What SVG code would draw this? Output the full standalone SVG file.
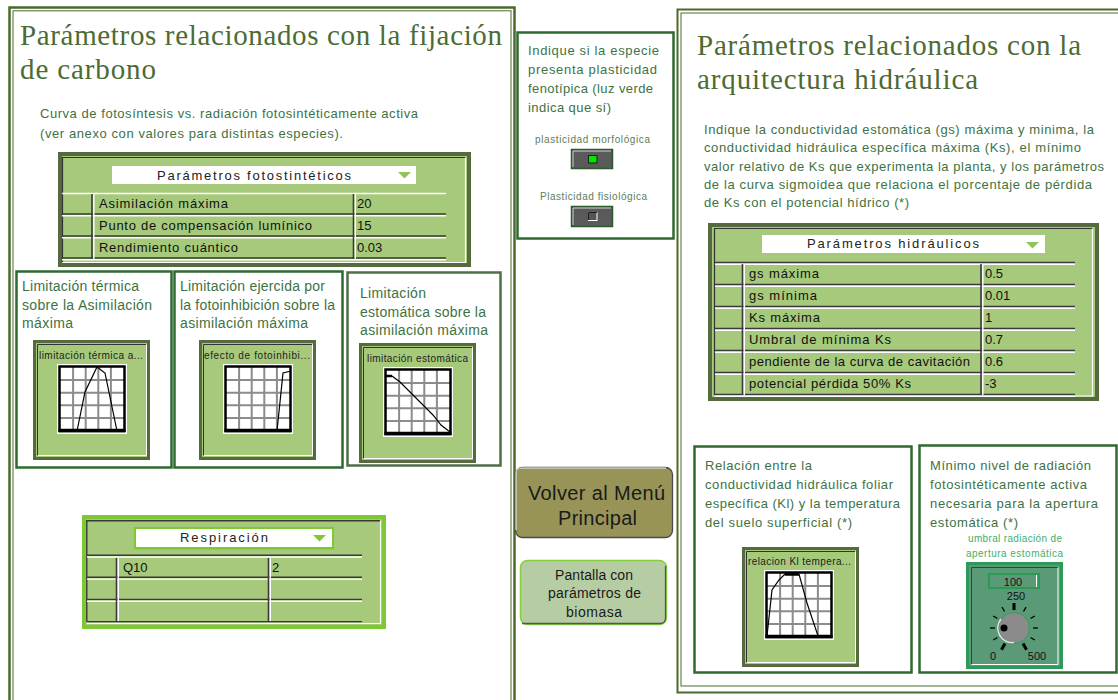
<svg xmlns="http://www.w3.org/2000/svg" width="1118" height="700" viewBox="0 0 1118 700">
<style>
.ttl{font-family:"Liberation Serif","Times New Roman",serif;font-size:29px;fill:#4c6b35}
.para{font-family:"Liberation Sans",Arial,sans-serif;font-size:13px;fill:#3e7244}
.pbig{font-family:"Liberation Sans",Arial,sans-serif;font-size:14px;fill:#3e7244}
.cell{font-family:"Liberation Sans",Arial,sans-serif;font-size:13px;fill:#111}
.hdr{font-family:"Liberation Sans",Arial,sans-serif;font-size:13px;fill:#222}
.gt{font-family:"Liberation Sans",Arial,sans-serif;font-size:10px;fill:#1e1e1e}
.small{font-family:"Liberation Sans",Arial,sans-serif;font-size:10px;fill:#5d7d5d}
.umb{font-family:"Liberation Sans",Arial,sans-serif;font-size:10px;fill:#3fae6c}
.btn{font-family:"Liberation Sans",Arial,sans-serif;fill:#1a1a1a}
.panel{fill:#fff;stroke:#2f6a30;stroke-width:2.5}
.frame{fill:none;stroke:#4a6a2c}
.dk{stroke:#3a3a3a;stroke-width:1.6;fill:none}
.wt{stroke:#fff;stroke-width:1.4;fill:none}
.grid{stroke:#8c8c8c;stroke-width:2;fill:none}
.curve{fill:none;stroke:#000;stroke-width:1.2}
.kt{font-family:"Liberation Sans",Arial,sans-serif;font-size:11px;fill:#111;text-anchor:middle}
.tick{stroke:#000;stroke-width:1.3}
.major{stroke:#000;stroke-width:3}
</style>
<defs>
<g id="plot">
<rect x="0" y="0" width="70" height="70" fill="#fff"/>
<path class="grid" d="M16.1 3V67M28.7 3V67M41.3 3V67M53.9 3V67M3 16.1H67M3 28.7H67M3 41.3H67M3 53.9H67"/>
<rect x="2.5" y="2.5" width="65" height="64.5" fill="none" stroke="#000" stroke-width="2.5"/>
<line x1="1.5" y1="66.5" x2="68.5" y2="66.5" stroke="#000" stroke-width="3.5"/>
</g>
<g id="xyw">
<rect x="1.5" y="1.5" width="114" height="117" fill="#a6c97b" stroke="#556b3f" stroke-width="3"/>
<path d="M4.5 116 V4.5 H113" fill="none" stroke="#333" stroke-width="1"/>
<path d="M4.5 115.5 H113.5 V4.5" fill="none" stroke="#fff" stroke-width="1"/>
</g>
</defs>

<rect x="0" y="0" width="1118" height="700" fill="#fff"/>

<!-- Left panel -->
<g id="panel-carbono">
<rect class="frame" x="9.5" y="7.5" width="505" height="720" stroke-width="2.5"/>
<rect class="frame" x="13" y="10.8" width="498" height="720" stroke-width="1"/>
<text class="ttl" x="20" y="45" textLength="482">Parámetros relacionados con la fijación</text>
<text class="ttl" x="20" y="79" textLength="136">de carbono</text>
<text class="para" x="40" y="118" textLength="378">Curva de fotosíntesis vs. radiación fotosintéticamente activa</text>
<text class="para" x="40" y="138" textLength="303">(ver anexo con valores para distintas especies).</text>
</g>

<g id="tabla-fotosinteticos">
<rect x="60" y="154" width="409" height="111" fill="#a6c97b" stroke="#556b3f" stroke-width="4"/>
<path d="M62.5 262 V157.5 H466" fill="none" stroke="#333" stroke-width="1.2"/>
<path d="M62.5 262.5 H465.5 V157.5" fill="none" stroke="#fff" stroke-width="1.2"/>
<rect x="112" y="166" width="304" height="18" fill="#fff"/>
<text class="hdr" x="157" y="180" textLength="194">Parámetros fotostintéticos</text>
<polygon points="398,172 411,172 404.5,178.5" fill="#8fc45a"/>
<line class="wt" x1="62" y1="193.5" x2="446" y2="193.5"/>
<line class="dk" x1="62" y1="214" x2="446" y2="214"/>
<line class="wt" x1="62" y1="215.8" x2="446" y2="215.8"/>
<line class="dk" x1="62" y1="236" x2="446" y2="236"/>
<line class="wt" x1="62" y1="237.8" x2="446" y2="237.8"/>
<line class="dk" x1="62" y1="258" x2="446" y2="258"/>
<line class="wt" x1="62" y1="259.8" x2="446" y2="259.8"/>
<line class="dk" x1="92" y1="194" x2="92" y2="259"/>
<line class="wt" x1="93.8" y1="194" x2="93.8" y2="259"/>
<line class="dk" x1="353.5" y1="194" x2="353.5" y2="259"/>
<line class="wt" x1="355.3" y1="194" x2="355.3" y2="259"/>
<text class="cell" x="99" y="208" textLength="129">Asimilación máxima</text>
<text class="cell" x="99" y="230" textLength="213">Punto de compensación lumínico</text>
<text class="cell" x="99" y="252" textLength="139">Rendimiento cuántico</text>
<text class="cell" x="357" y="208">20</text>
<text class="cell" x="357" y="230">15</text>
<text class="cell" x="357" y="252">0.03</text>
</g>

<g id="limitacion-termica">
<rect class="panel" x="16.5" y="271.5" width="155" height="196"/>
<text class="pbig" x="22" y="291" textLength="117">Limitación térmica</text>
<text class="pbig" x="22" y="310" textLength="130">sobre la Asimilación</text>
<text class="pbig" x="22" y="328" textLength="51">máxima</text>
<use href="#xyw" transform="translate(33,340)"/>
<text class="gt" x="39" y="359" textLength="104">limitación térmica a...</text>
<use href="#plot" transform="translate(57,364)"/>
<polyline class="curve" points="77,431 85,392 97,367 105,373 117,431"/>
</g>

<g id="limitacion-fotoinhibicion">
<rect class="panel" x="174.5" y="271.5" width="168" height="196"/>
<text class="pbig" x="180" y="291" textLength="145">Limitación ejercida por</text>
<text class="pbig" x="180" y="310" textLength="155">la fotoinhibición sobre la</text>
<text class="pbig" x="180" y="328" textLength="128">asimilación máxima</text>
<use href="#xyw" transform="translate(199,340)"/>
<text class="gt" x="204" y="359" textLength="106">efecto de fotoinhibi...</text>
<use href="#plot" transform="translate(223,364)"/>
<polyline class="curve" points="226,430 268,430 277,431 283,373 291,371"/>
</g>

<g id="limitacion-estomatica">
<rect class="panel" x="347.5" y="272.5" width="153" height="193" style="stroke:#4f6f45"/>
<text class="pbig" x="360" y="298" textLength="66">Limitación</text>
<text class="pbig" x="360" y="317" textLength="126">estomática sobre la</text>
<text class="pbig" x="360" y="335" textLength="128">asimilación máxima</text>
<use href="#xyw" transform="translate(359,343)"/>
<text class="gt" x="367" y="362" textLength="101">limitación estomática</text>
<use href="#plot" transform="translate(383,367)"/>
<line x1="385" y1="376" x2="392" y2="376" stroke="#000" stroke-width="2.5"/>
<polyline class="curve" points="392,376 400,382 413,395 424,406 433,415 441,425 450,432"/>
</g>

<g id="tabla-respiracion">
<rect x="84" y="517" width="300" height="110" fill="#a6c97b" stroke="#7ec832" stroke-width="4"/>
<path d="M86.8 622 V520.8 H380" fill="none" stroke="#3a3a3a" stroke-width="1.4"/>
<path d="M86.8 623.5 H380.5 V520.8" fill="none" stroke="#fff" stroke-width="1.2"/>
<rect x="135" y="528" width="198" height="20" fill="#fff" stroke="#7ec832" stroke-width="2"/>
<line x1="135" y1="548.5" x2="334" y2="548.5" stroke="#7ec832" stroke-width="2"/>
<text class="hdr" x="180" y="542" textLength="88">Respiración</text>
<polygon points="313,535 326,535 319.5,541.5" fill="#7ec832"/>
<line class="dk" x1="87" y1="555.2" x2="362" y2="555.2"/>
<line class="wt" x1="87" y1="557" x2="362" y2="557"/>
<line class="dk" x1="87" y1="577.3" x2="362" y2="577.3"/>
<line class="wt" x1="87" y1="579.1" x2="362" y2="579.1"/>
<line class="dk" x1="87" y1="599.5" x2="362" y2="599.5"/>
<line class="wt" x1="87" y1="601.3" x2="362" y2="601.3"/>
<line class="dk" x1="87" y1="621.7" x2="362" y2="621.7"/>
<line class="wt" x1="87" y1="623.4" x2="362" y2="623.4"/>
<line class="dk" x1="116.5" y1="558" x2="116.5" y2="621"/>
<line class="wt" x1="118.3" y1="558" x2="118.3" y2="621"/>
<line class="dk" x1="268.5" y1="558" x2="268.5" y2="621"/>
<line class="wt" x1="270.3" y1="558" x2="270.3" y2="621"/>
<text class="cell" x="123" y="572">Q10</text>
<text class="cell" x="272" y="572">2</text>
</g>

<!-- Middle column -->
<g id="plasticidad">
<rect x="517.5" y="32.5" width="156" height="206" fill="#fff" stroke="#2f6a30" stroke-width="2.5"/>
<text class="para" x="528" y="55" textLength="131">Indique si la especie</text>
<text class="para" x="528" y="74" textLength="129">presenta plasticidad</text>
<text class="para" x="528" y="93" textLength="125">fenotípica (luz verde</text>
<text class="para" x="528" y="112" textLength="83">indica que sí)</text>
<text class="small" x="535" y="143" textLength="115">plasticidad morfológica</text>
<rect x="571.5" y="149.5" width="41" height="19" fill="#5a5a5a" stroke="#2c5a2c" stroke-width="1.5"/>
<path d="M573 167 V151 H611" fill="none" stroke="#cfcfcf" stroke-width="1"/>
<rect x="588.5" y="155.5" width="8.5" height="7.5" fill="#00e600" stroke="#1e1e1e" stroke-width="1"/>
<text class="small" x="540" y="200" textLength="107">Plasticidad fisiológica</text>
<rect x="571.5" y="206.5" width="41" height="20" fill="#5a5a5a" stroke="#2c5a2c" stroke-width="1.5"/>
<path d="M573 225 V208 H611" fill="none" stroke="#cfcfcf" stroke-width="1"/>
<rect x="588.5" y="212.5" width="8.5" height="8" fill="#555" stroke="#fff" stroke-width="1"/>
<path d="M588.5 220 V212.5 H597" fill="none" stroke="#1e1e1e" stroke-width="1"/>
</g>

<g id="btn-volver">
<rect x="515.5" y="467.5" width="157" height="70" rx="7" fill="#989458" stroke="#4a4a4a" stroke-width="1.3"/>
<path d="M516 530 V474 Q516 468 522 468 H666" fill="none" stroke="#fff" stroke-width="1"/>
<text class="btn" x="528" y="500" font-size="20" textLength="137">Volver al Menú</text>
<text class="btn" x="558" y="525" font-size="20" textLength="79">Principal</text>
</g>

<g id="btn-biomasa">
<rect x="520.5" y="560.5" width="146" height="64" rx="7" fill="#b6cda3" stroke="#86cf3e" stroke-width="1.5"/>
<path d="M522 623.5 H660 Q665.5 623.5 665.5 618 V566" fill="none" stroke="#555" stroke-width="1.3"/>
<text class="btn" x="555" y="580" font-size="14" textLength="78">Pantalla con</text>
<text class="btn" x="548" y="598" font-size="14" textLength="93">parámetros de</text>
<text class="btn" x="566" y="617" font-size="14" textLength="56">biomasa</text>
</g>

<!-- Right panel -->
<g id="panel-hidraulica">
<rect class="frame" x="677.5" y="9.5" width="460" height="683" stroke-width="2"/>
<rect class="frame" x="681" y="13" width="455" height="673" stroke-width="1"/>
<text class="ttl" x="697" y="55" textLength="384">Parámetros relacionados con la</text>
<text class="ttl" x="697" y="89" textLength="281">arquitectura hidráulica</text>
<text class="para" x="704" y="134" textLength="390">Indique la conductividad estomática (gs) máxima y minima, la</text>
<text class="para" x="704" y="152" textLength="377">conductividad hidráulica específica máxima (Ks), el mínimo</text>
<text class="para" x="704" y="171" textLength="400">valor relativo de Ks que experimenta la planta, y los parámetros</text>
<text class="para" x="704" y="189" textLength="388">de la curva sigmoidea que relaciona el porcentaje de pérdida</text>
<text class="para" x="704" y="207" textLength="205">de Ks con el potencial hídrico (*)</text>
</g>

<g id="tabla-hidraulicos">
<rect x="710" y="225" width="387" height="174" fill="#a6c97b" stroke="#556b3f" stroke-width="4"/>
<path d="M714.5 395 V228.5 H1093" fill="none" stroke="#333" stroke-width="1.2"/>
<path d="M714.5 396 H1092.5 V228.5" fill="none" stroke="#fff" stroke-width="1.2"/>
<rect x="762" y="235" width="283" height="18" fill="#fff"/>
<text class="hdr" x="807" y="248" textLength="172">Parámetros hidráulicos</text>
<polygon points="1026,242 1039,242 1032.5,248.5" fill="#8fc45a"/>
<g>
<line class="dk" x1="715" y1="262.5" x2="1075" y2="262.5"/>
<line class="wt" x1="715" y1="264.3" x2="1075" y2="264.3"/>
<line class="dk" x1="715" y1="284.5" x2="1075" y2="284.5"/>
<line class="wt" x1="715" y1="286.3" x2="1075" y2="286.3"/>
<line class="dk" x1="715" y1="306.5" x2="1075" y2="306.5"/>
<line class="wt" x1="715" y1="308.3" x2="1075" y2="308.3"/>
<line class="dk" x1="715" y1="328.5" x2="1075" y2="328.5"/>
<line class="wt" x1="715" y1="330.3" x2="1075" y2="330.3"/>
<line class="dk" x1="715" y1="350.5" x2="1075" y2="350.5"/>
<line class="wt" x1="715" y1="352.3" x2="1075" y2="352.3"/>
<line class="dk" x1="715" y1="372.5" x2="1075" y2="372.5"/>
<line class="wt" x1="715" y1="374.3" x2="1075" y2="374.3"/>
<line class="dk" x1="715" y1="394.5" x2="1075" y2="394.5"/>
<line class="wt" x1="715" y1="396.3" x2="1075" y2="396.3"/>
<line class="dk" x1="742.5" y1="264" x2="742.5" y2="395"/>
<line class="wt" x1="744.3" y1="264" x2="744.3" y2="395"/>
<line class="dk" x1="981" y1="264" x2="981" y2="395"/>
<line class="wt" x1="982.8" y1="264" x2="982.8" y2="395"/>
</g>
<text class="cell" x="749" y="278" textLength="70">gs máxima</text>
<text class="cell" x="749" y="300" textLength="68">gs mínima</text>
<text class="cell" x="749" y="322" textLength="71">Ks máxima</text>
<text class="cell" x="749" y="344" textLength="142">Umbral de mínima  Ks</text>
<text class="cell" x="749" y="366" textLength="221">pendiente de la curva de cavitación</text>
<text class="cell" x="749" y="388" textLength="162">potencial pérdida 50% Ks</text>
<text class="cell" x="985" y="278">0.5</text>
<text class="cell" x="985" y="300">0.01</text>
<text class="cell" x="985" y="322">1</text>
<text class="cell" x="985" y="344">0.7</text>
<text class="cell" x="985" y="366">0.6</text>
<text class="cell" x="985" y="388">-3</text>
</g>

<g id="relacion-kl">
<rect class="panel" x="694.5" y="446.5" width="217" height="226"/>
<text class="para" x="705" y="470" textLength="107">Relación entre la</text>
<text class="para" x="705" y="489" textLength="188">conductividad hidráulica foliar</text>
<text class="para" x="705" y="508" textLength="195">específica (Kl) y la temperatura</text>
<text class="para" x="705" y="527" textLength="147">del suelo superficial (*)</text>
<use href="#xyw" transform="translate(742,547)"/>
<text class="gt" x="748" y="565" textLength="103">relacion Kl tempera...</text>
<use href="#plot" transform="translate(764,570)"/>
<polyline class="curve" points="767,636 772,590 779,580 785,574 799,574 807,603 818,636 832,636"/>
<line x1="785" y1="574.5" x2="799" y2="574.5" stroke="#000" stroke-width="2.5"/>
</g>

<g id="umbral-radiacion">
<rect class="panel" x="919.5" y="445.5" width="197" height="227"/>
<text class="para" x="930" y="470" textLength="161">Mínimo nivel de radiación</text>
<text class="para" x="930" y="489" textLength="157">fotosintéticamente activa</text>
<text class="para" x="930" y="508" textLength="168">necesaria para la apertura</text>
<text class="para" x="930" y="527" textLength="88">estomática (*)</text>
<text class="umb" x="968" y="542" textLength="94">umbral radiación de</text>
<text class="umb" x="966" y="557" textLength="97">apertura estomática</text>
<rect x="967.5" y="563.5" width="94" height="104" fill="#5b9a77" stroke="#2e9a5a" stroke-width="3"/>
<path d="M971.5 664 V567.5 H1058" fill="none" stroke="#2a4a38" stroke-width="1"/>
<path d="M971.5 664.5 H1058 V567.5" fill="none" stroke="#fff" stroke-width="1"/>
<rect x="989" y="574" width="50" height="14" fill="#5b9a77" stroke="#2a9a55" stroke-width="2"/>
<line x1="1036.5" y1="575" x2="1036.5" y2="587" stroke="#fff" stroke-width="1"/>
<text class="kt" x="1013" y="585.5">100</text>
<text class="kt" x="1016" y="600">250</text>
<line class="major" x1="1005" y1="643.6" x2="1001.5" y2="649.7"/>
<line class="tick" x1="997.5" y1="637.5" x2="993.2" y2="640"/>
<line class="tick" x1="995" y1="628" x2="990" y2="628"/>
<line class="tick" x1="997.5" y1="618.5" x2="993.2" y2="616"/>
<line class="tick" x1="1004.5" y1="611.5" x2="1002" y2="607.2"/>
<line class="major" x1="1014" y1="610" x2="1014" y2="603"/>
<line class="tick" x1="1023.5" y1="611.5" x2="1026" y2="607.2"/>
<line class="tick" x1="1030.5" y1="618.5" x2="1034.8" y2="616"/>
<line class="tick" x1="1033" y1="628" x2="1038" y2="628"/>
<line class="tick" x1="1030.5" y1="637.5" x2="1034.8" y2="640"/>
<line class="major" x1="1023" y1="643.6" x2="1026.5" y2="649.7"/>
<circle cx="1014" cy="628" r="15.5" fill="#8b8b8b" stroke="#3c9a64" stroke-width="1"/>
<path d="M1001 619 A14.5 14.5 0 0 0 1014 642.5" fill="none" stroke="#e6e6e6" stroke-width="1.5"/>
<circle cx="1004" cy="628" r="3.5" fill="#000"/>
<text class="kt" x="993" y="660">0</text>
<text class="kt" x="1037" y="660">500</text>
</g>
</svg>
